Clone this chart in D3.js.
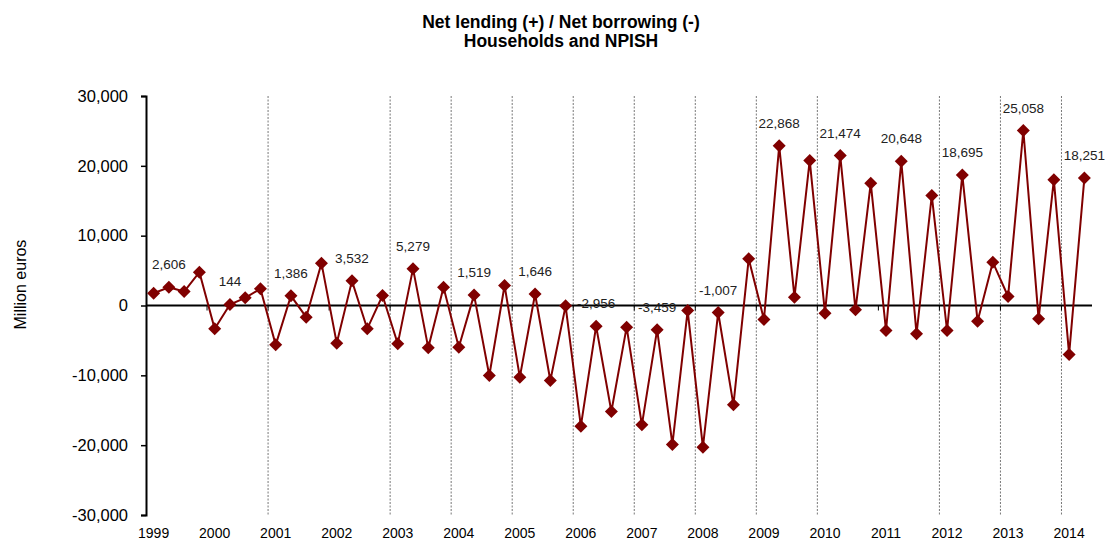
<!DOCTYPE html>
<meta charset="utf-8">
<style>
  body { margin: 0; background: #fff; }
  text { font-family: "Liberation Sans", Arial, sans-serif; }
</style>
<body>
<div id="chart"></div>
<script src="https://cdn.jsdelivr.net/npm/d3@7"></script>
<script>
// quarterly values, 1999Q1 .. 2014Q2 (million euros)
const years = d3.range(1999, 2015);
const quarters = [];
years.forEach(y => [1, 2, 3, 4].forEach(q => quarters.push(y + "Q" + q)));
quarters.splice(62);

const values = [
  1760, 2606, 2000, 4770,
  -3340, 144, 1100, 2390,
  -5630, 1386, -1670, 6060,
  -5390, 3532, -3340, 1430,
  -5490, 5279, -6060, 2620,
  -5970, 1519, -10020, 2860,
  -10260, 1646, -10740, -50,
  -17280, -2956, -15180, -3100,
  -17090, -3459, -19900, -720,
  -20290, -1007, -14220, 6680,
  -2000, 22868, 1190, 20770,
  -1100, 21474, -620, 17520,
  -3580, 20648, -4060, 15750,
  -3580, 18695, -2240, 6200,
  1290, 25058, -1910, 18000,
  -7000, 18251
];

// years with a dotted separator line (as in the original)
const gridYears = [2001, 2003, 2004, 2005, 2006, 2007, 2008, 2009, 2010, 2012, 2013, 2014];
const yTicks = [-30000, -20000, -10000, 0, 10000, 20000, 30000];

const width = 1106, height = 540,
    margin = {top: 96, right: 14, bottom: 25, left: 146},
    red = "#800000";

const svg = d3.select("#chart").append("svg")
    .attr("width", width)
    .attr("height", height);

const x = d3.scalePoint()
    .domain(d3.range(values.length))
    .range([margin.left, width - margin.right])
    .padding(0.5);

const y = d3.scaleLinear()
    .domain([-30000, 30000])
    .range([height - margin.bottom, margin.top]);

const step = x.step();
// plain hyphen for negatives, like the original
const fmt = d3.formatLocale({decimal: ".", thousands: ",", grouping: [3], currency: ["", ""], minus: "-"}).format(",");

// title
const title = svg.append("text")
    .attr("text-anchor", "middle")
    .style("font-weight", "bold")
    .style("font-size", "17.5px");
title.append("tspan").attr("x", 561).attr("y", 28).text("Net lending (+) / Net borrowing (-)");
title.append("tspan").attr("x", 561).attr("y", 47).text("Households and NPISH");

// y axis title
svg.append("text")
    .attr("transform", "translate(26," + y(3000) + ") rotate(-90)")
    .attr("text-anchor", "middle")
    .style("font-size", "16px")
    .text("Million euros");

// dotted year separators
svg.append("g")
    .selectAll("line")
    .data(gridYears)
    .enter().append("line")
    .attr("x1", d => x((d - 1999) * 4) - step / 2)
    .attr("x2", d => x((d - 1999) * 4) - step / 2)
    .attr("y1", y(30000))
    .attr("y2", y(-30000))
    .style("stroke", "#777")
    .style("stroke-width", 1)
    .style("stroke-dasharray", "2,1.5");

// y axis
const yAxis = svg.append("g")
    .attr("transform", "translate(" + margin.left + ",0)")
    .call(d3.axisLeft(y).tickValues(yTicks).tickFormat(fmt).tickSize(5).tickPadding(13));
yAxis.select(".domain").style("stroke", "#000").style("stroke-width", 2);
yAxis.selectAll(".tick line").style("stroke", "#000").style("stroke-width", 1.5);
yAxis.selectAll("text").style("font-size", "16.5px").style("fill", "#000")
    .style("font-family", "'Liberation Sans', Arial, sans-serif");

// zero line with year ticks
svg.append("line")
    .attr("x1", margin.left)
    .attr("x2", width - margin.right)
    .attr("y1", y(0))
    .attr("y2", y(0))
    .style("stroke", "#000")
    .style("stroke-width", 2);

svg.append("g")
    .selectAll("line")
    .data(years.slice(1))
    .enter().append("line")
    .attr("x1", d => x((d - 1999) * 4) - step / 2)
    .attr("x2", d => x((d - 1999) * 4) - step / 2)
    .attr("y1", y(0))
    .attr("y2", y(0) + 5)
    .style("stroke", "#000")
    .style("stroke-width", 1);

// year labels (under the first quarter)
svg.append("g")
    .selectAll("text")
    .data(years)
    .enter().append("text")
    .attr("x", d => x((d - 1999) * 4))
    .attr("y", 538)
    .attr("text-anchor", "middle")
    .style("font-size", "14px")
    .text(d => d);

// line
svg.append("path")
    .datum(values)
    .attr("d", d3.line().x((d, i) => x(i)).y(d => y(d)))
    .style("fill", "none")
    .style("stroke", red)
    .style("stroke-width", 2);

// diamonds
svg.append("g")
    .selectAll("path")
    .data(values)
    .enter().append("path")
    .attr("transform", (d, i) => "translate(" + x(i) + "," + y(d) + ")")
    .attr("d", "M0,-6.5L6.5,0L0,6.5L-6.5,0Z")
    .style("fill", red);

// labels on the second quarter of each year
svg.append("g")
    .selectAll("text")
    .data(values.map((v, i) => ({v: v, i: i})).filter(d => d.i % 4 === 1))
    .enter().append("text")
    .attr("x", d => x(d.i))
    .attr("y", d => y(d.v) - 18)
    .attr("text-anchor", "middle")
    .style("font-size", "13.5px")
    .style("fill", "#222")
    .text(d => fmt(d.v));
</script>
</body>
